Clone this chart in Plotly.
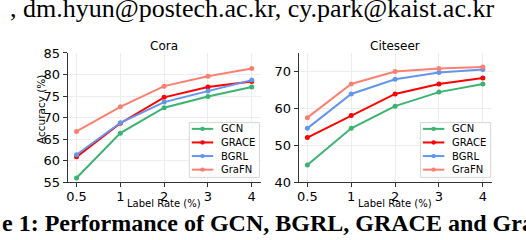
import plotly.graph_objects as go

# ---------------- data ----------------
label_rates = ["0.5", "1", "2", "3", "4"]
methods = ["GCN", "GRACE", "BGRL", "GraFN"]

cora_gcn = [56.0, 66.4, 72.3, 74.9, 77.1]
cora_grace = [60.9, 68.7, 74.7, 77.1, 78.4]
cora_bgrl = [61.4, 68.8, 73.6, 76.2, 78.7]
cora_grafn = [66.8, 72.5, 77.3, 79.6, 81.4]

citeseer_gcn = [44.7, 54.6, 60.6, 64.4, 66.6]
citeseer_grace = [52.1, 58.1, 63.9, 66.6, 68.2]
citeseer_bgrl = [54.6, 63.9, 67.9, 69.7, 70.5]
citeseer_grafn = [57.5, 66.6, 70.0, 70.8, 71.2]

cora_ticks = [55, 60, 65, 70, 75, 80, 85]
citeseer_ticks = [40, 50, 60, 70]

header_text = ", dm.hyun@postech.ac.kr, cy.park@kaist.ac.kr"
caption_text = "<b>e 1: Performance of GCN, BGRL, GRACE and GraFN</b>"

# ---------------- style ----------------
W, H = 526, 240
colors = {"GCN": "#3CB371", "GRACE": "#FF0000", "BGRL": "#6495ED", "GraFN": "#FA8072"}
cora = {"GCN": cora_gcn, "GRACE": cora_grace, "BGRL": cora_bgrl, "GraFN": cora_grafn}
citeseer = {"GCN": citeseer_gcn, "GRACE": citeseer_grace, "BGRL": citeseer_bgrl, "GraFN": citeseer_grafn}

# plot areas in pixels (left, right, top, bottom)
P1 = (66.0, 259.5, 49.0, 187.0)
P2 = (297.7, 491.5, 49.0, 187.0)


def px(x):
    return x / W


def py(y):
    return 1 - y / H


fig = go.Figure()
for m in methods:
    fig.add_trace(go.Scatter(x=label_rates, y=cora[m], mode="lines+markers", name=m, showlegend=False,
                             line=dict(color=colors[m], width=2), marker=dict(size=5, color=colors[m]),
                             xaxis="x", yaxis="y"))
for m in methods:
    fig.add_trace(go.Scatter(x=label_rates, y=citeseer[m], mode="lines+markers", name=m, showlegend=False,
                             line=dict(color=colors[m], width=2), marker=dict(size=5, color=colors[m]),
                             xaxis="x2", yaxis="y2"))

# page text above / below the figure (cut by the crop), placed on a full-page pixel overlay axis
# (baseline = y + 0.25 * font size for plotly's "middle" text position)
fig.add_trace(go.Scatter(x=[8, 0], y=[10.5 - 0.25 * 26, 239 - 0.25 * 24], mode="text",
                         text=[header_text, caption_text], textposition="middle right",
                         textfont=dict(family="Liberation Serif", size=[26, 24], color="black"),
                         cliponaxis=False, hoverinfo="skip", showlegend=False, xaxis="x3", yaxis="y3"))

tickfont = dict(family="DejaVu Sans", size=13, color="black")
axis_common = dict(showline=True, linecolor="#333333", linewidth=1, ticks="outside", ticklen=4,
                   tickwidth=1, tickcolor="#333333", showgrid=True, gridcolor="#ededed", gridwidth=1,
                   zeroline=False, tickfont=tickfont, mirror=False, fixedrange=True)

fig.update_layout(
    width=W, height=H, autosize=False,
    margin=dict(l=0, r=0, t=0, b=0, pad=0),
    paper_bgcolor="white", plot_bgcolor="rgba(0,0,0,0)",
    font=dict(family="DejaVu Sans", color="black"),
    showlegend=False,
    xaxis=dict(domain=[px(P1[0]), px(P1[1])], type="category", range=[-0.2, 4.2], anchor="y",
               ticklabelstandoff=-2, **axis_common),
    yaxis=dict(domain=[py(P1[3]), py(P1[2])], range=[55, 85], tickvals=cora_ticks, anchor="x", **axis_common),
    xaxis2=dict(domain=[px(P2[0]), px(P2[1])], type="category", range=[-0.2, 4.2], anchor="y2",
                ticklabelstandoff=-2, **axis_common),
    yaxis2=dict(domain=[py(P2[3]), py(P2[2])], range=[40, 75], tickvals=citeseer_ticks, anchor="x2",
                **axis_common),
    xaxis3=dict(domain=[0, 1], range=[0, W], visible=False, fixedrange=True, anchor="y3"),
    yaxis3=dict(domain=[0, 1], range=[H, 0], visible=False, fixedrange=True, anchor="x3"),
)

annotations = [
    dict(text="Cora", x=px((P1[0] + P1[1]) / 2), y=py(41.3), font=dict(family="DejaVu Sans", size=12)),
    dict(text="Citeseer", x=px((P2[0] + P2[1]) / 2), y=py(41.3), font=dict(family="DejaVu Sans", size=12)),
    dict(text="Label Rate (%)", x=px((P1[0] + P1[1]) / 2), y=py(209.5), font=dict(family="DejaVu Sans", size=10)),
    dict(text="Label Rate (%)", x=px((P2[0] + P2[1]) / 2), y=py(209.5), font=dict(family="DejaVu Sans", size=10)),
    dict(text="Accuracy (%)", x=px(38.5), y=py(109.5), textangle=-90, font=dict(family="DejaVu Sans", size=10.5)),
]

# legends (matplotlib-style, lower right inside each panel)
shapes = []
item_gap = 14.5
for P in (P1, P2):
    right = P[1] - 1
    left = right - 70.5
    top, bottom = 123.3, 181.7
    shapes.append(dict(type="rect", xref="paper", yref="paper", x0=px(left), x1=px(right),
                       y0=py(bottom), y1=py(top), line=dict(color="#d6d6d6", width=1),
                       fillcolor="rgba(255,255,255,0.85)", layer="above"))
    for i, m in enumerate(methods):
        yy = 130 + item_gap * i
        shapes.append(dict(type="line", xref="paper", yref="paper", x0=px(left + 2.5), x1=px(left + 24),
                           y0=py(yy), y1=py(yy), line=dict(color=colors[m], width=2), layer="above"))
        cx = left + 13.25
        shapes.append(dict(type="circle", xref="paper", yref="paper", x0=px(cx - 2.3), x1=px(cx + 2.3),
                           y0=py(yy + 2.3), y1=py(yy - 2.3), line=dict(width=0), fillcolor=colors[m],
                           layer="above"))
        annotations.append(dict(text=m, x=px(left + 30), y=py(yy), xanchor="left",
                                font=dict(family="DejaVu Sans", size=10)))

for a in annotations:
    a.setdefault("xanchor", "center")
    a.update(xref="paper", yref="paper", yanchor="middle", showarrow=False)
    a["font"].setdefault("color", "black")
fig.update_layout(annotations=annotations, shapes=shapes)

fig.write_html("out.html", config={"staticPlot": True},
               post_script="document.body.style.margin='0';document.body.style.padding='0';"
                           "document.documentElement.style.overflow='hidden';")
